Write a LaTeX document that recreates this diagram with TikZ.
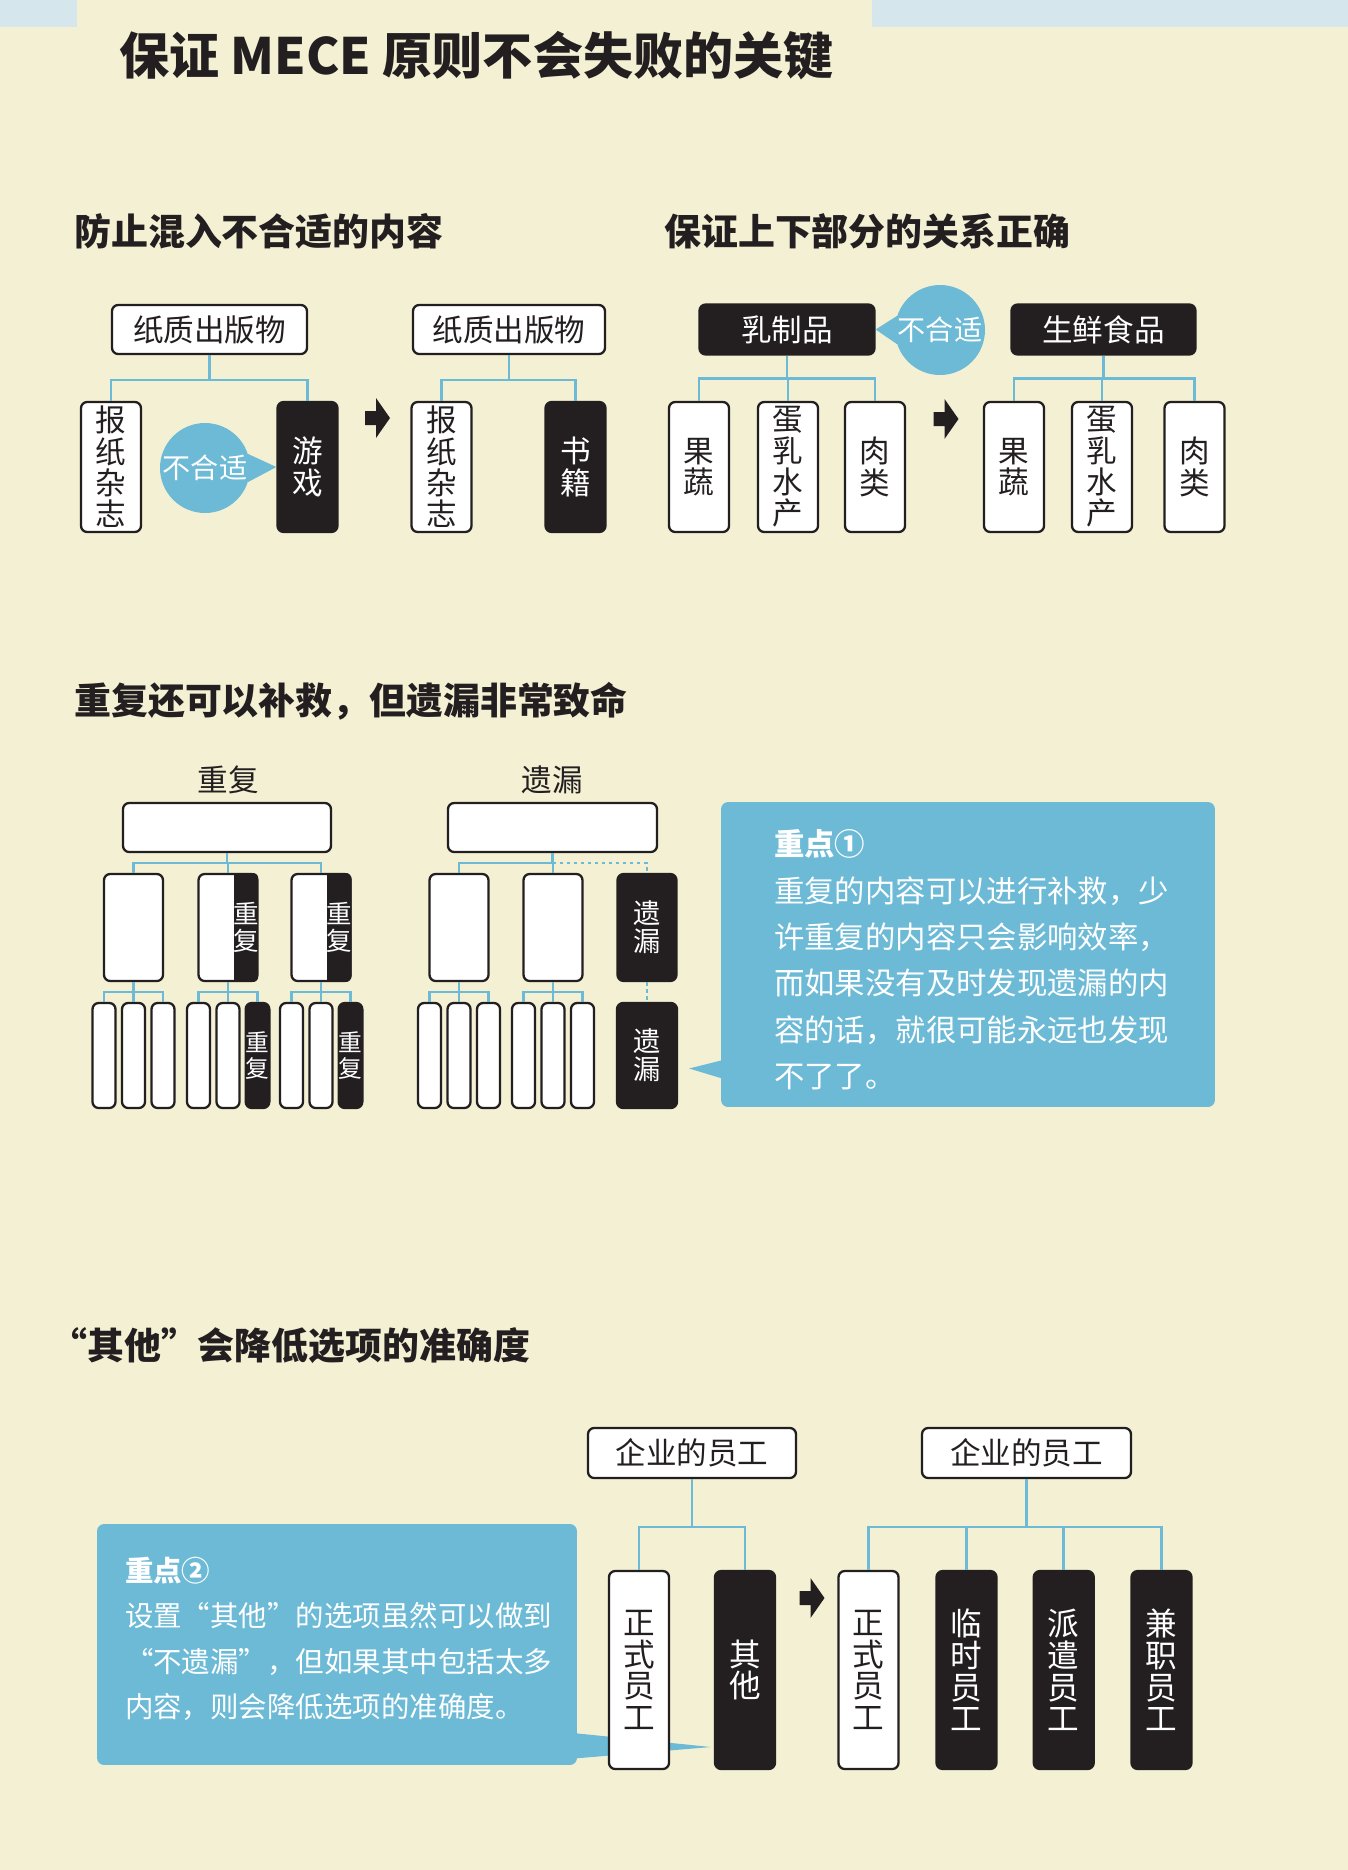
\documentclass[tikz,border=0pt]{standalone}
\usepackage{fontspec}
\setmainfont{Noto Sans CJK SC}
\usetikzlibrary{calc}

\definecolor{cream}{RGB}{243,240,212}
\definecolor{haze}{RGB}{213,230,236}
\definecolor{sky}{RGB}{108,186,214}
\definecolor{ink}{RGB}{35,31,32}

\begin{document}
\begin{tikzpicture}[x=0.02cm, y=-0.02cm,
  box/.style={draw=ink, line width=1.3pt, fill=white, rounded corners=3.5pt, inner sep=0pt, text=ink,
    font=\fontsize{17.4}{17.8}\selectfont},
  blk/.style={box, fill=ink, text=white},
  tall/.style={minimum width=1.2cm, minimum height=2.6cm, align=center},
  mid/.style={minimum width=1.18cm, minimum height=2.14cm, align=center},
  slim/.style={minimum width=0.46cm, minimum height=2.1cm, align=center, font=\fontsize{13.5}{14.5}\selectfont},
  long/.style={minimum width=1.2cm, minimum height=3.96cm, align=center, font=\fontsize{18}{18}\selectfont},
  link/.style={sky, line width=1.5pt},
  bubble/.style={circle, fill=sky, text=white, minimum size=1.8cm, inner sep=0pt, font=\fontsize{16}{16}\selectfont},
  note/.style={fill=sky, rounded corners=4pt, text=white, align=left, inner sep=0pt},
  head/.style={anchor=west, inner sep=0pt, text=ink, font=\bfseries\fontsize{21}{21}\selectfont}]

  \fill[cream] (0,0) rectangle (1348,1870);
  \fill[haze] (0,0) rectangle (77,27);
  \fill[haze] (872,0) rectangle (1348,27);
  \useasboundingbox (0,0) rectangle (1348,1870);

  \node[anchor=west, inner sep=0pt, text=ink, font=\bfseries\fontsize{28.5}{28.5}\selectfont] (title) at (119,56) {保证 MECE 原则不会失败的关键};

  \node[head] (h1) at (74,231) {防止混入不合适的内容};
  \node[head] (h2) at (664,231) {保证上下部分的关系正确};
  \node[head] (h3) at (74,701) {重复还可以补救，但遗漏非常致命};
  \node[head] (h4) at (50,1346) {“其他”会降低选项的准确度};

  \node[box, minimum width=3.9cm, minimum height=0.98cm] (pub1) at (209.5,329.5) {纸质出版物};
  \node[box, tall] (news1) at (111,467) {报\\纸\\杂\\志};
  \node[blk, tall] (game) at (307.5,467) {游\\戏};
  \draw[link] (pub1.south) -- ++(0,25) -| (news1.north);
  \draw[link] (pub1.south) -- ++(0,25) -| (game.north);
  \node[bubble] (odd1) at (205,468) {不合适};
  \fill[sky] (odd1.18) -- (game.west) -- (odd1.-18) -- cycle;

  \coordinate (arr1) at (377.5,418);
  \fill[ink, shift={(arr1)}] (-12.5,-7) -- (-1.5,-7) -- (-1.5,-20) -- (12.5,0) -- (-1.5,20) -- (-1.5,7) -- (-12.5,7) -- cycle;

  \node[box, minimum width=3.84cm, minimum height=0.98cm] (pub2) at (509,329.5) {纸质出版物};
  \node[box, tall] (news2) at (441.5,467) {报\\纸\\杂\\志};
  \node[blk, tall] (book) at (575.5,467) {书\\籍};
  \draw[link] (pub2.south) -- ++(0,25) -| (news2.north);
  \draw[link] (pub2.south) -- ++(0,25) -| (book.north);

  \node[blk, minimum width=3.5cm, minimum height=1cm] (dairy) at (787,329.5) {乳制品};
  \node[box, tall] (veg1) at (699,467) {果\\蔬};
  \node[box, tall] (egg1) at (788,467) {蛋\\乳\\水\\产};
  \node[box, tall] (meat1) at (875,467) {肉\\类};
  \foreach \c in {veg1,egg1,meat1}
    \draw[link] (dairy.south) -- ++(0,23) -| (\c.north);
  \node[bubble] (odd2) at (940,330) {不合适};
  \fill[sky] (odd2.162) -- (dairy.east) -- (odd2.198) -- cycle;

  \coordinate (arr2) at (946,419);
  \fill[ink, shift={(arr2)}] (-12.5,-7) -- (-1.5,-7) -- (-1.5,-20) -- (12.5,0) -- (-1.5,20) -- (-1.5,7) -- (-12.5,7) -- cycle;

  \node[blk, minimum width=3.68cm, minimum height=1cm] (fresh) at (1103.5,329.5) {生鲜食品};
  \node[box, tall] (veg2) at (1014,467) {果\\蔬};
  \node[box, tall] (egg2) at (1102,467) {蛋\\乳\\水\\产};
  \node[box, tall] (meat2) at (1194.5,467) {肉\\类};
  \foreach \c in {veg2,egg2,meat2}
    \draw[link] (fresh.south) -- ++(0,23) -| (\c.north);

  \node[text=ink, font=\fontsize{17.4}{17.4}\selectfont] (dup) at (228,780) {重复};
  \node[text=ink, font=\fontsize{17.4}{17.4}\selectfont] (gap) at (552,780) {遗漏};
  \node[box, minimum width=4.16cm, minimum height=0.98cm] (top1) at (227,827.5) {};
  \node[box, minimum width=4.18cm, minimum height=0.98cm] (top2) at (552.5,827.5) {};

  \node[box, mid] (a) at (133.5,927.5) {};
  \node[box, mid] (b) at (228,927.5) {};
  \node[box, mid] (c) at (321,927.5) {};
  \foreach \p in {b,c} {
    \begin{scope}
      \clip[rounded corners=3.5pt] (\p.north west) rectangle (\p.south east);
      \fill[ink] ([xshift=-0.5cm]\p.north east) rectangle (\p.south east);
    \end{scope}
    \node[text=white, align=center, inner sep=0pt, font=\fontsize{14.5}{15.5}\selectfont] (\p t) at ([xshift=-0.25cm]\p.east) {重\\复};
  }
  \node[box, mid] (d) at (459,927.5) {};
  \node[box, mid] (e) at (553,927.5) {};
  \node[blk, mid, font=\fontsize{15.5}{16}\selectfont] (miss1) at (647,927.5) {遗\\漏};
  \foreach \c in {a,b,c}
    \draw[link] (top1.south) -- ++(0,10) -| (\c.north);
  \foreach \c in {d,e}
    \draw[link] (top2.south) -- ++(0,10) -| (\c.north);
  \draw[link, dash pattern=on 2pt off 2pt] (top2.south) ++(0,10) -| (miss1.north);

  \foreach \p/\x in {a/133.5, b/228, c/321, d/459, e/553} {
    \node[box, slim] (\p1) at (\x-29.5,1055.5) {};
    \node[box, slim] (\p2) at (\x,1055.5) {};
  }
  \node[box, slim] (a3) at (163,1055.5) {};
  \node[blk, slim] (b3) at (257.5,1055.5) {重\\复};
  \node[blk, slim] (c3) at (350.5,1055.5) {重\\复};
  \node[box, slim] (d3) at (488.5,1055.5) {};
  \node[box, slim] (e3) at (582.5,1055.5) {};
  \node[blk, minimum width=1.2cm, minimum height=2.1cm, align=center, font=\fontsize{15.5}{16}\selectfont] (miss2) at (647,1055.5) {遗\\漏};
  \foreach \p in {a,b,c,d,e} {
    \draw[link] (\p.south) -- ++(0,9.7) -| (\p1.north);
    \draw[link] (\p.south) -- ++(0,9.7) -| (\p2.north);
    \draw[link] (\p.south) -- ++(0,9.7) -| (\p3.north);
  }
  \draw[link, dash pattern=on 2pt off 2pt] (miss1.south) -- (miss2.north);

  \node[note, minimum width=9.88cm, minimum height=6.1cm, text width=7.76cm, font=\fontsize{17.3}{26.4}\selectfont] (note1) at (968,954.5)
    {\rule{0pt}{0.74cm}\textbf{重点①}\\重复的内容可以进行补救，少\\许重复的内容只会影响效率，\\而如果没有及时发现遗漏的内\\容的话，就很可能永远也发现\\不了了。};
  \fill[sky] ($(note1.south west)+(1,-29)$) -- ($(miss2.east)+(11,13)$) -- ($(note1.south west)+(1,-47)$) -- cycle;

  \node[note, minimum width=9.6cm, minimum height=4.82cm, text width=8.48cm, font=\fontsize{16.2}{25.9}\selectfont] (note2) at (337,1644.5)
    {\textbf{重点②}\\设置“其他”的选项虽然可以做到\\“不遗漏”，但如果其中包括太多\\内容，则会降低选项的准确度。\rule[-0.28cm]{0pt}{0.28cm}};

  \node[box, minimum width=4.16cm, minimum height=1cm] (staff1) at (692,1453) {企业的员工};
  \node[blk, long] (other) at (745,1670) {其\\他};
  \fill[sky] ($(note2.south east)+(-1,-32)$) -- ($(other.west)+(-3,77)$) -- ($(note2.south east)+(-1,-7)$) -- cycle;
  \node[box, long] (reg1) at (639,1670) {正\\式\\员\\工};
  \draw[link] (staff1.south) -- ++(0,48) -| (reg1.north);
  \draw[link] (staff1.south) -- ++(0,48) -| (other.north);

  \coordinate (arr3) at (812,1598);
  \fill[ink, shift={(arr3)}] (-12.5,-7) -- (-1.5,-7) -- (-1.5,-20) -- (12.5,0) -- (-1.5,20) -- (-1.5,7) -- (-12.5,7) -- cycle;

  \node[box, minimum width=4.18cm, minimum height=1cm] (staff2) at (1026.5,1453) {企业的员工};
  \node[box, long] (reg2) at (868.5,1670) {正\\式\\员\\工};
  \node[blk, long] (temp) at (966.5,1670) {临\\时\\员\\工};
  \node[blk, long] (disp) at (1063.75,1670) {派\\遣\\员\\工};
  \node[blk, long] (part) at (1161.5,1670) {兼\\职\\员\\工};
  \foreach \c in {reg2,temp,disp,part}
    \draw[link] (staff2.south) -- ++(0,48) -| (\c.north);
\end{tikzpicture}
\end{document}
